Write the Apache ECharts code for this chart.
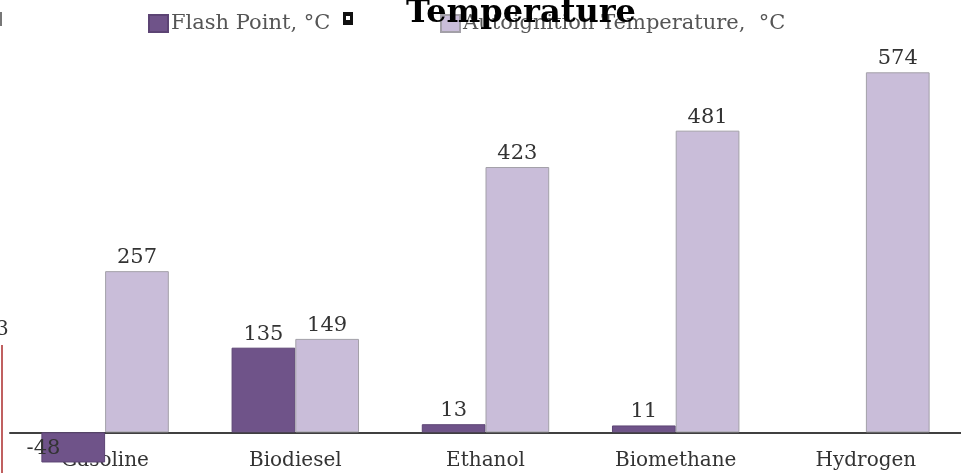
<!DOCTYPE html>
<html>
<head>
<meta charset="utf-8">
<script src="https://cdn.jsdelivr.net/npm/echarts@6/dist/echarts.min.js"></script>
<style>
    html, body { margin: 0; padding: 0; background: #fff; }
    #main { width: 961px; height: 473px; }
</style>
</head>
<body>
<div id="main"></div>
<script>
    // chart data
    var categories = ['Gasoline', 'Biodiesel', 'Ethanol', 'Biomethane', 'Hydrogen'];
    var flashPoint = [-48, 135, 13, 11, null];
    var autoignition = [257, 149, 423, 481, 574];
    var seriesNames = ['Flash Point, °C', 'Autoignition Temperature,  °C'];

    var serif = '"DejaVu Serif", "Liberation Serif", serif';

    var flashData = flashPoint.map(function (v) {
        if (v !== null && v < 0) {
            return { value: v, label: { position: 'left', offset: [22, 1] } };
        }
        return v;
    });

    var chart = echarts.init(document.getElementById('main'));
    chart.setOption({
        backgroundColor: '#fff',
        animation: false,
        title: {
            text: 'Temperature',
            left: 401,
            top: -7,
            z: 10,
            textStyle: { fontFamily: serif, fontWeight: 'bold', fontSize: 32, color: '#000' }
        },
        legend: [{
            data: [seriesNames[0]],
            left: 143,
            top: 8,
            itemWidth: 19,
            itemHeight: 17,
            icon: 'rect',
            textStyle: { fontFamily: serif, fontSize: 21, color: '#555', padding: [0, 0, 0, -2] }
        }, {
            data: [seriesNames[1]],
            left: 435,
            top: 8,
            itemWidth: 19,
            itemHeight: 17,
            icon: 'rect',
            textStyle: { fontFamily: serif, fontSize: 21, color: '#555', padding: [0, 0, 0, -2] }
        }],
        grid: { left: 10, right: 0, top: 56, bottom: 3, containLabel: false, outerBoundsMode: 'none' },
        xAxis: {
            type: 'category',
            data: categories,
            axisLine: { onZero: true, lineStyle: { color: '#404040', width: 2 } },
            axisTick: { show: false },
            axisLabel: { fontFamily: serif, fontSize: 20, color: '#333', margin: -19 }
        },
        yAxis: {
            type: 'value',
            min: -60,
            max: 600,
            show: false,
            splitLine: { show: false }
        },
        series: [{
            name: seriesNames[0],
            type: 'bar',
            data: flashData,
            barGap: '0%',
            barCategoryGap: '33%',
            itemStyle: { color: '#6f5389', borderColor: '#5c4474', borderWidth: 1 },
            label: { show: true, position: 'top', distance: 3, fontFamily: serif, fontSize: 21, color: '#333' }
        }, {
            name: seriesNames[1],
            type: 'bar',
            data: autoignition,
            itemStyle: { color: '#c9bdd9', borderColor: '#a3a0a8', borderWidth: 1 },
            label: { show: true, position: 'top', distance: 3, fontFamily: serif, fontSize: 21, color: '#333' }
        }],
        graphic: [
            { type: 'rect', shape: { x: 343, y: 12, width: 10, height: 13 }, style: { fill: '#111' } },
            { type: 'rect', shape: { x: 346, y: 16, width: 4, height: 4 }, style: { fill: '#fff' } },
            { type: 'rect', shape: { x: 1, y: 345, width: 2, height: 128 }, style: { fill: '#c06060' } },
            { type: 'text', x: -4, y: 320, style: { text: '3', font: '20px "DejaVu Serif"', fill: '#333' } },
            { type: 'rect', shape: { x: 0, y: 12, width: 2, height: 14 }, style: { fill: '#777' } }
        ]
    });
</script>
</body>
</html>
